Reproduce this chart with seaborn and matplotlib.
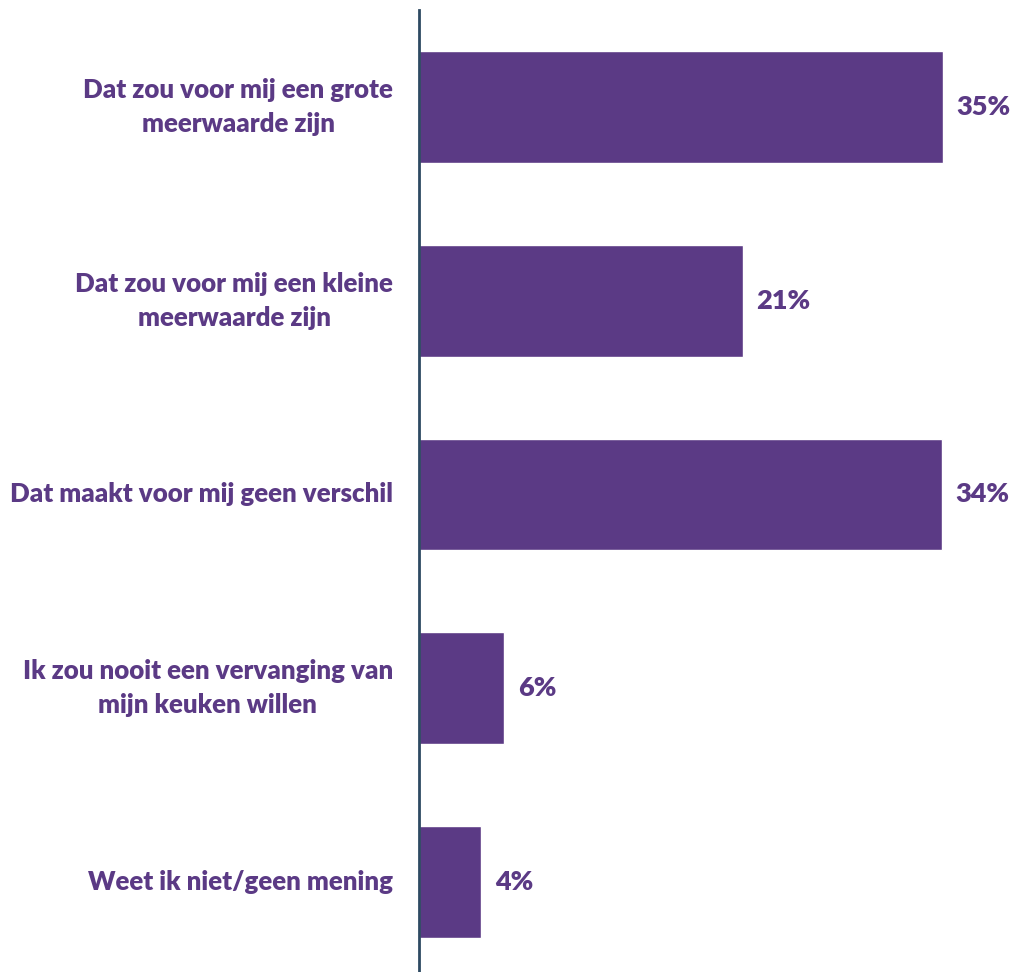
import matplotlib
matplotlib.use("Agg")
import matplotlib.pyplot as plt
import seaborn as sns
import pandas as pd

# ── Data ─────────────────────────────────────────────
categories = [
    "Dat zou voor mij een grote\nmeerwaarde zijn",
    "Dat zou voor mij een kleine\nmeerwaarde zijn",
    "Dat maakt voor mij geen verschil",
    "Ik zou nooit een vervanging van\nmijn keuken willen",
    "Weet ik niet/geen mening",
]
values = [34.5, 21.3, 34.4, 5.6, 4.1]
value_labels = ["35%", "21%", "34%", "6%", "4%"]

BAR = "#5B3A85"
AXIS = "#2E4A62"

sns.set_theme(style="white")
plt.rcParams["font.family"] = ["Lato", "DejaVu Sans"]

df = pd.DataFrame({"cat": categories, "val": values})

fig = plt.figure(figsize=(10.14, 9.72), dpi=100)
ax = fig.add_axes([419 / 1014, 0.0, 595 / 1014, 1 - 10 / 972])

sns.barplot(data=df, x="val", y="cat", color=BAR, saturation=1,
            width=0.577, ax=ax)

ax.set_xlim(0, 595 / 15.19)
ax.set_ylim(4.464, -0.5)
ax.set_xlabel("")
ax.set_ylabel("")
ax.set_xticks([])
ax.set_yticklabels([])
ax.tick_params(axis="y", length=0)

for s in ["top", "right", "bottom"]:
    ax.spines[s].set_visible(False)
ax.spines["left"].set_color(AXIS)
ax.spines["left"].set_linewidth(2)

# category labels, centred on the bars
for i, cat in enumerate(categories):
    ax.annotate(cat, xy=(0, i), xycoords=("axes fraction", "data"),
                xytext=(-26, 0), textcoords="offset pixels",
                ha="right", va="center", multialignment="center",
                fontsize=18.6, fontweight="heavy", color=BAR,
                linespacing=1.5)

for i, (v, t) in enumerate(zip(values, value_labels)):
    ax.text(v + 0.9, i, t, va="center", ha="left", fontsize=19.5,
            fontweight="heavy", color=BAR)

fig.savefig("out.png", dpi=100)
